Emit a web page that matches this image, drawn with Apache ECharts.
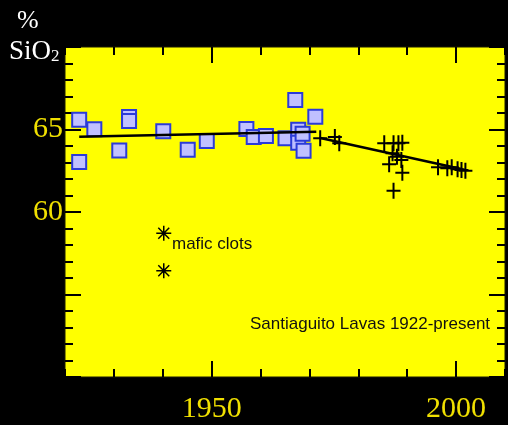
<!DOCTYPE html>
<html>
<head>
<meta charset="utf-8">
<script src="https://cdn.jsdelivr.net/npm/echarts@6/dist/echarts.min.js"></script>
<style>
  html, body { margin: 0; padding: 0; background: #000; }
  #chart { width: 508px; height: 425px; }
</style>
</head>
<body>
<div id="chart"></div>
<script>
// SiO2 (%) of Santiaguito lavas against eruption year
var squareData = [
  [1922.9, 65.59], [1922.9, 63.03], [1926.0, 65.02], [1931.1, 63.73],
  [1933.1, 65.76], [1933.1, 65.52], [1940.1, 64.89], [1945.1, 63.78],
  [1949.0, 64.30], [1957.1, 65.03], [1958.6, 64.55], [1961.1, 64.60],
  [1965.1, 64.47], [1967.1, 66.79], [1967.7, 64.98], [1967.7, 64.19],
  [1968.6, 64.74], [1968.8, 63.71], [1971.2, 65.77]
];
var crossData = [
  [1972.2, 64.47], [1975.2, 64.55], [1976.1, 64.16],
  [1985.3, 64.16], [1987.2, 64.16], [1988.2, 64.16], [1989.0, 64.20],
  [1987.0, 63.56], [1987.9, 63.35], [1988.8, 63.15], [1986.3, 62.90],
  [1989.0, 62.38], [1987.2, 61.29],
  [1996.3, 62.71], [1998.2, 62.65], [1999.1, 62.71], [2000.3, 62.59],
  [2001.1, 62.55], [2001.9, 62.50]
];
var maficData = [[1940.2, 58.71], [1940.2, 56.44]];
var trendOld = [[1922.9, 64.56], [1971.4, 64.87]];
var trendNew = [[1972.0, 64.50], [2001.3, 62.59]];

var decades = ['1920', '1930', '1940', '1950', '1960', '1970', '1980', '1990', '2000', '2010'];
var xLabels = [1950, 2000];
var yLabels = [60, 65];

var plusPath = 'path://M7,0H9V16H7ZM1,7H15V9H1Z';
var starPath = 'path://M7.2,0H8.8V16H7.2ZM0,7.2H16V8.8H0Z' +
  'M1.6,2.7L2.7,1.6L14.4,13.3L13.3,14.4ZM13.3,1.6L14.4,2.7L2.7,14.4L1.6,13.3Z';

var serif = '"Liberation Serif", "DejaVu Serif", serif';
var sans = '"Liberation Sans", Arial, sans-serif';
var labelYellow = '#f0e000';
var tickStyle = { color: '#000', width: 2 };

// year axis, one short tick per decade
function yearAxis(pos, showLabel) {
  return {
    type: 'value', position: pos, min: 1920, max: 2010, interval: 10,
    axisLine: { show: false, onZero: false },
    splitLine: { show: false },
    axisTick: { show: true, inside: true, length: 8, lineStyle: tickStyle },
    axisLabel: {
      show: showLabel, margin: 17, color: labelYellow, fontSize: 30, fontFamily: serif,
      formatter: function (v) { return xLabels.indexOf(v) >= 0 ? String(v) : ''; }
    }
  };
}

// decade categories over the same span, long ticks only at the labelled years
function majorYearAxis(pos) {
  return {
    type: 'category', position: pos, data: decades, boundaryGap: false,
    axisLine: { show: false, onZero: false },
    splitLine: { show: false },
    axisTick: {
      show: true, inside: true, length: 16, lineStyle: tickStyle,
      interval: function (i, v) { return xLabels.indexOf(Number(v)) >= 0; }
    },
    axisLabel: { show: false }
  };
}

function silicaAxis(pos, showLabel) {
  return {
    type: 'value', position: pos, min: 50, max: 70, interval: 5,
    axisLine: { show: false, onZero: false },
    splitLine: { show: false },
    axisTick: { show: true, inside: true, length: 16, lineStyle: tickStyle },
    minorTick: { show: true, splitNumber: 5, length: 8, lineStyle: tickStyle },
    axisLabel: {
      show: showLabel, margin: 2, color: labelYellow, fontSize: 30, fontFamily: serif,
      padding: [4, 0, 0, 0],
      formatter: function (v) { return yLabels.indexOf(v) >= 0 ? String(v) : ''; }
    }
  };
}

var chart = echarts.init(document.getElementById('chart'));
chart.setOption({
  backgroundColor: '#000',
  animation: false,
  grid: {
    left: 65, top: 47, right: 1, bottom: 48,
    show: true, backgroundColor: '#ffff00', borderColor: '#1a1a00', borderWidth: 1
  },
  xAxis: [
    yearAxis('bottom', true),
    yearAxis('top', false),
    majorYearAxis('bottom'),
    majorYearAxis('top')
  ],
  yAxis: [silicaAxis('left', true), silicaAxis('right', false)],
  series: [
    {
      name: 'early lavas', type: 'scatter', data: squareData,
      symbol: 'rect', symbolSize: 14,
      itemStyle: { color: '#c0c0ff', borderColor: '#2b3bd8', borderWidth: 2, opacity: 1 }
    },
    {
      name: 'recent lavas', type: 'scatter', data: crossData,
      symbol: plusPath, symbolSize: [14, 16],
      itemStyle: { color: '#000', opacity: 1 }
    },
    {
      name: 'mafic clots', type: 'scatter', data: maficData,
      symbol: starPath, symbolSize: 15,
      itemStyle: { color: '#000', opacity: 1 }
    },
    {
      name: 'trend 1922-1971', type: 'line', data: trendOld, symbol: 'none', z: 5,
      lineStyle: { color: '#000', width: 2.5 }
    },
    {
      name: 'trend 1972-present', type: 'line', data: trendNew, symbol: 'none', z: 5,
      lineStyle: { color: '#000', width: 2.5 }
    }
  ],
  graphic: [
    { type: 'text', left: 17, top: 8,
      style: { text: '%', fill: '#fff', font: '26px ' + serif } },
    { type: 'text', left: 9, top: 38,
      style: {
        text: '{a|SiO}{b|2}', fill: '#fff',
        rich: {
          a: { fontSize: 27, fontFamily: serif, fill: '#fff', verticalAlign: 'bottom' },
          b: { fontSize: 17, fontFamily: serif, fill: '#fff', verticalAlign: 'bottom' }
        }
      } },
    { type: 'text', left: 172, top: 236,
      style: { text: 'mafic clots', fill: '#111', font: '17px ' + sans } },
    { type: 'text', left: 250, top: 316,
      style: { text: 'Santiaguito Lavas 1922-present', fill: '#111', font: '17px ' + sans } }
  ]
});
</script>
</body>
</html>
